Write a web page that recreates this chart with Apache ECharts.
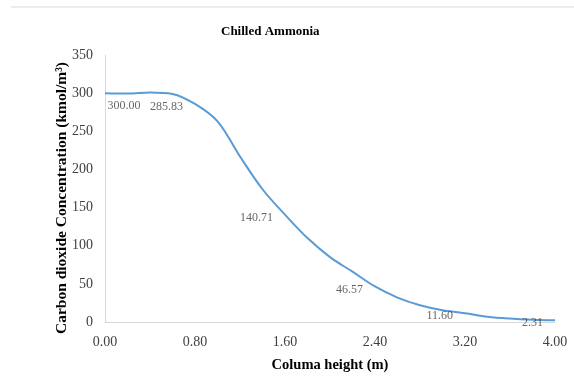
<!DOCTYPE html>
<html>
<head>
<meta charset="utf-8">
<script src="https://cdn.jsdelivr.net/npm/echarts@6/dist/echarts.min.js"></script>
<style>
  html, body { margin: 0; padding: 0; background: #fff; }
  #chart { width: 574px; height: 381px; }
</style>
</head>
<body>
<div id="chart"></div>
<script>
// column height (m) and CO2 concentration
const heights = [0, 0.2, 0.4, 0.6, 0.8, 1.0, 1.2, 1.4, 1.6, 1.8, 2.0, 2.2, 2.4, 2.6, 2.8, 3.0, 3.2, 3.4, 3.6, 3.8, 4.0];
const concentration = [300, 299.5, 301, 299, 285.83, 263, 217, 174, 140.71, 110, 85, 66, 46.57, 32, 22, 15.5, 11.6, 7, 4.5, 3, 2.31];
// points that carry a data label in the original
const labelledHeights = [0, 0.8, 1.6, 2.4, 3.2, 4.0];
const labelledValues = [300.0, 285.83, 140.71, 46.57, 11.6, 2.31];

const serif = "'Liberation Serif', 'DejaVu Serif', serif";

const labelData = labelledHeights.map((h, i) => ({
  value: [h, labelledValues[i]],
  label: {
    position: i === 0 ? "bottom" : "left",
    distance: i === 0 ? 4 : 11,
    offset: i === 0 ? [19, 2] : [0, 3],
  },
}));

const chart = echarts.init(document.getElementById("chart"), null, { renderer: "canvas" });
chart.setOption({
  animation: false,
  backgroundColor: "#fff",
  title: {
    text: "Chilled Ammonia",
    left: 216,
    top: 20,
    textStyle: { fontFamily: serif, fontSize: 13, fontWeight: "bold", color: "#000" },
  },
  graphic: [
    {
      type: "line",
      shape: { x1: 11, y1: 7, x2: 574, y2: 7 },
      style: { stroke: "#d9d9d9", lineWidth: 1 },
    },
    {
      type: "text",
      x: 62,
      y: 198,
      rotation: Math.PI / 2,
      style: {
        text: "Carbon dioxide Concentration (kmol/m\u00b3)",
        font: "bold 15.5px " + serif,
        fill: "#000",
        align: "center",
        verticalAlign: "middle",
      },
    },
  ],
  grid: { left: 105, right: 19, top: 55, bottom: 59 },
  xAxis: {
    type: "value",
    min: 0,
    max: 4,
    interval: 0.8,
    name: "Columa height (m)",
    nameLocation: "middle",
    nameGap: 36,
    nameTextStyle: { fontFamily: serif, fontSize: 14.5, fontWeight: "bold", color: "#000" },
    axisLine: { show: true, lineStyle: { color: "#d9d9d9" } },
    axisTick: { show: false },
    splitLine: { show: false },
    axisLabel: {
      margin: 13,
      fontFamily: serif,
      fontSize: 14,
      color: "#404040",
      formatter: (v) => v.toFixed(2),
    },
  },
  yAxis: {
    type: "value",
    min: 0,
    max: 350,
    interval: 50,
    axisLine: { show: true, lineStyle: { color: "#d9d9d9" } },
    axisTick: { show: false },
    splitLine: { show: false },
    axisLabel: { margin: 12, fontFamily: serif, fontSize: 14, color: "#404040" },
  },
  series: [
    {
      type: "line",
      data: heights.map((h, i) => [h, concentration[i]]),
      smooth: 0.35,
      symbol: "none",
      lineStyle: { color: "#5b9bd5", width: 2 },
      z: 2,
    },
    {
      type: "scatter",
      data: labelData,
      symbolSize: 2,
      itemStyle: { color: "rgba(0,0,0,0)" },
      label: {
        show: true,
        fontFamily: serif,
        fontSize: 12,
        color: "#404040",
        formatter: (p) => p.value[1].toFixed(2),
      },
      z: 3,
    },
  ],
});
</script>
</body>
</html>
